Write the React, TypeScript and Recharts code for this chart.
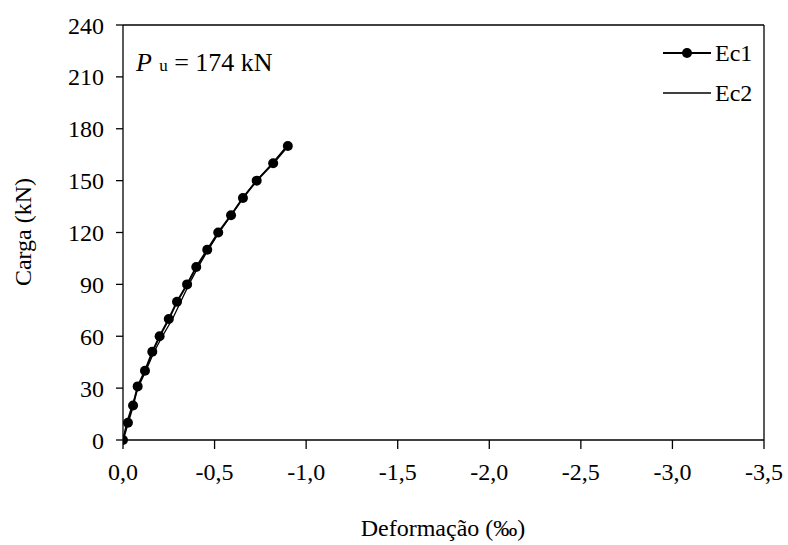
import React from 'react'
import {
  LineChart, Line, XAxis, YAxis, ReferenceLine,
} from 'recharts'

document.body.style.margin = '0'

// carga (kN) e deformações (‰)
const loads = [0, 10, 20, 31, 40, 51, 60, 70, 80, 90, 100, 110, 120, 130, 140, 150, 160, 170]
const ec1 = [0, -0.027, -0.055, -0.08, -0.12, -0.16, -0.2, -0.25, -0.295, -0.35, -0.4, -0.46, -0.52, -0.59, -0.655, -0.73, -0.82, -0.9]
const ec2 = [0, -0.02, -0.05, -0.085, -0.125, -0.17, -0.215, -0.27, -0.315, -0.36, -0.41, -0.465, -0.525, -0.59, -0.655, -0.73, -0.815, -0.895]

const xTicks = [0, -0.5, -1, -1.5, -2, -2.5, -3, -3.5]
const yTicks = [0, 30, 60, 90, 120, 150, 180, 210, 240]

const FONT = '"Liberation Serif", "Times New Roman", Times, "DejaVu Serif", serif'

const ec1Data = loads.map((y, i) => ({ x: ec1[i], y }))
const ec2Data = loads.map((y, i) => ({ x: ec2[i], y }))

const fmt = (v: number) => (v === 0 ? '0,0' : v.toFixed(1).replace('.', ','))

const tickStyle = { fontSize: 24, fill: '#000', fontFamily: FONT }

function LegendBox() {
  const rows = [
    { name: 'Ec1', dot: true },
    { name: 'Ec2', dot: false },
  ]
  return (
    <div style={{ position: 'absolute', left: 662, top: 33, fontFamily: FONT, fontSize: 24, color: '#000' }}>
      {rows.map((r) => (
        <div key={r.name} style={{ display: 'flex', alignItems: 'center', height: 40 }}>
          <svg width={50} height={14} style={{ marginRight: 3 }}>
            <line x1={1} x2={49} y1={7} y2={7} stroke="#000" strokeWidth={r.dot ? 2 : 1.5} />
            {r.dot && <circle cx={25} cy={7} r={5} fill="#000" />}
          </svg>
          <span>{r.name}</span>
        </div>
      ))}
    </div>
  )
}

function YTitle() {
  return (
    <text x={23} y={232} transform="rotate(-90 23 232)" textAnchor="middle" dominantBaseline="central"
      fontFamily={FONT} fontSize={24} fill="#000">
      Carga (kN)
    </text>
  )
}

function XTitle() {
  return (
    <text x={443} y={528} textAnchor="middle" dominantBaseline="central"
      fontFamily={FONT} fontSize={24} fill="#000">
      Deformação (‰)
    </text>
  )
}

export default function App() {
  return (
    <div style={{ position: 'relative', width: 788, height: 545, background: '#fff' }}>
      <LineChart width={788} height={545} data={ec1Data} margin={{ top: 25, right: 24, left: 0, bottom: 0 }}>
        <XAxis
          dataKey="x" type="number" domain={[-3.5, 0]} reversed ticks={xTicks} tickFormatter={fmt}
          allowDataOverflow height={105} tick={tickStyle} tickSize={9} tickMargin={14}
          axisLine={{ stroke: '#000', strokeWidth: 1.3 }} tickLine={{ stroke: '#000', strokeWidth: 1.3 }}
          label={<XTitle />}
        />
        <YAxis
          dataKey="y" type="number" domain={[0, 240]} ticks={yTicks} width={123}
          tick={tickStyle} tickSize={7} tickMargin={12}
          axisLine={{ stroke: '#000', strokeWidth: 1.3 }} tickLine={{ stroke: '#000', strokeWidth: 1.3 }}
          label={<YTitle />}
        />
        <ReferenceLine y={240} stroke="#000" strokeWidth={1.3} />
        <ReferenceLine x={-3.5} stroke="#000" strokeWidth={1.3} />
        <Line
          data={ec2Data} dataKey="y" name="Ec2" stroke="#000" strokeWidth={1.3}
          dot={false} activeDot={false} isAnimationActive={false}
        />
        <Line
          data={ec1Data} dataKey="y" name="Ec1" stroke="#000" strokeWidth={2}
          dot={{ r: 5, fill: '#000', stroke: '#000', strokeWidth: 0 }} activeDot={false} isAnimationActive={false}
        />
      </LineChart>
      <LegendBox />
      <div style={{ position: 'absolute', left: 136, top: 48, fontFamily: FONT, fontSize: 26, color: '#000', whiteSpace: 'nowrap' }}>
        <i>P</i><span style={{ fontSize: 17, marginLeft: 3 }}> u</span> = 174 kN
      </div>
    </div>
  )
}
